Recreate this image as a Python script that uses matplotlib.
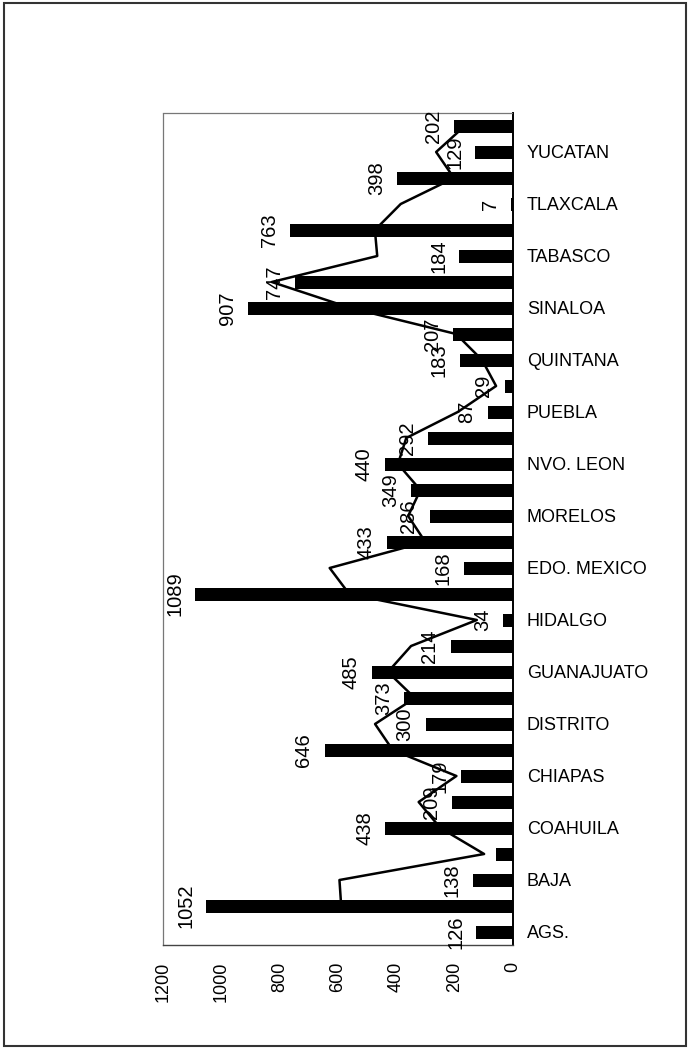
import matplotlib
matplotlib.use("Agg")
import matplotlib.pyplot as plt
import numpy as np
from matplotlib.patches import Rectangle

plt.rcParams['font.family'] = ['Liberation Sans', 'DejaVu Sans']

# States in alphabetical order (only every other one gets an axis label)
states = ["AGS.", "BAJA", "BAJA", "CAMPECHE", "COAHUILA", "COLIMA", "CHIAPAS",
          "CHIHUAHUA", "DISTRITO", "DURANGO", "GUANAJUATO", "GUERRERO",
          "HIDALGO", "JALISCO", "EDO. MEXICO", "MICHOACAN", "MORELOS",
          "NAYARIT", "NVO. LEON", "OAXACA", "PUEBLA", "QUERETARO", "QUINTANA",
          "S.L.P.", "SINALOA", "SONORA", "TABASCO", "TAMAULIPAS", "TLAXCALA",
          "VERACRUZ", "YUCATAN", "ZACATECAS"]
values = [126, 1052, 138, 60, 438, 209, 179, 646, 300, 373, 485, 214, 34, 1089,
          168, 433, 286, 349, 440, 292, 87, 29, 183, 207, 907, 747, 184, 763, 7,
          398, 129, 202]
unlabeled = [3]          # bar whose value label is not shown
value_ticks = [0, 200, 400, 600, 800, 1000, 1200]

pos = np.arange(len(values))
vals = np.array(values, dtype=float)
# 2-period moving average trend line
trend = (vals[1:] + vals[:-1]) / 2.0

fig = plt.figure(figsize=(6.88, 10.49), dpi=100)
ax = fig.add_axes([163/688, 1 - 945/1049, 350/688, 832/1049])

ax.barh(pos, vals, height=0.5, color='black', zorder=2)
ax.plot(trend, pos[1:], color='black', lw=1.8, zorder=3)

for i, v in enumerate(values):
    if i in unlabeled:
        continue
    ax.annotate(str(v), xy=(v, i), xytext=(-8, 0), textcoords='offset points',
                rotation=90, ha='right', va='center', fontsize=14.5, zorder=4)

ax.set_xlim(1200, 0)
ax.set_ylim(-0.5, len(values) - 0.5)
ax.set_xticks(value_ticks)
ax.set_xticklabels([str(t) for t in value_ticks], rotation=90, fontsize=13,
                   va='top', ha='center')
ax.yaxis.tick_right()
ax.set_yticks(pos[::2])
ax.set_yticklabels(states[::2], fontsize=13)
ax.tick_params(axis='x', length=0, pad=12)
ax.tick_params(axis='y', length=0, pad=10)

ax.spines['right'].set_color('black')
ax.spines['right'].set_linewidth(1.4)
for s in ('left', 'top'):
    ax.spines[s].set_color('#777777')
    ax.spines[s].set_linestyle((0, (1, 1)))
    ax.spines[s].set_linewidth(0.9)
ax.spines['bottom'].set_color('#444444')
ax.spines['bottom'].set_linewidth(1.0)

fig.patches.append(Rectangle((4/688, 3/1049), 682/688, 1043/1049,
                             transform=fig.transFigure, fill=False,
                             lw=1.5, ec='#333333'))

fig.savefig("out.png", dpi=100)
